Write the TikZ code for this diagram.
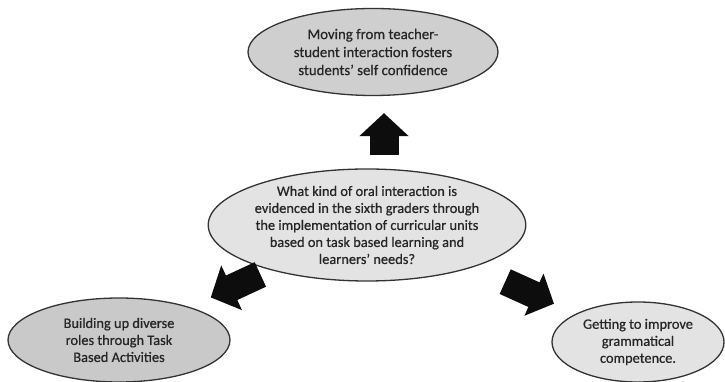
\documentclass[tikz,border=0pt]{standalone}
\usepackage{fontspec}
\setmainfont{Carlito}[FakeBold=0.6]
\usepackage{tikz}
\usetikzlibrary{arrows.meta,calc,shapes.geometric}

\begin{document}
\begin{tikzpicture}[
  x=1pt,y=1pt,
  idea/.style={ellipse,draw=black!80,line width=1.3pt,align=center,
               inner sep=0pt,text=black!85,font=\fontsize{14.4}{17}\selectfont},
  question/.style={idea,fill=black!11,minimum width=314pt,minimum height=112pt},
  blockarrow/.style={line width=27pt,black!95,
                     -{Triangle[length=23pt,width=48pt]}}
]
  \useasboundingbox (0,0) rectangle (725,382);
  \node[question] (q) at (367,157) {What kind of oral interaction is\\evidenced in the sixth graders through\\the implementation of curricular units\\based on task based learning and\\learners' needs?};
  \node[idea,fill=black!19,minimum width=250pt,minimum height=87pt,
        font=\fontsize{14.8}{18}\selectfont] (top) at (373,330)
    {Moving from teacher-\\student interaction fosters\\students' self confidence};
  \node[idea,fill=black!21,minimum width=222pt,minimum height=84pt] (bl) at (119,42)
    {Building up diverse\\roles through Task\\Based Activities};
  \node[idea,fill=black!11,minimum width=172pt,minimum height=80pt] (br) at (638,40)
    {Getting to improve\\grammatical\\competence.};
  \draw[blockarrow,line width=29pt] ([xshift=17pt,yshift=13pt]q.north)
    -- ([xshift=11pt,yshift=-17pt]top.south);
  \draw[blockarrow] ($(q)!0.43!(bl)$) -- ($(q)!0.63!(bl)$);
  \draw[blockarrow,-{Triangle[length=22pt,width=45pt]}] ($(q)!0.51!(br)+(0,3)$) -- ($(q)!0.69!(br)+(0,2)$);
\end{tikzpicture}
\end{document}
